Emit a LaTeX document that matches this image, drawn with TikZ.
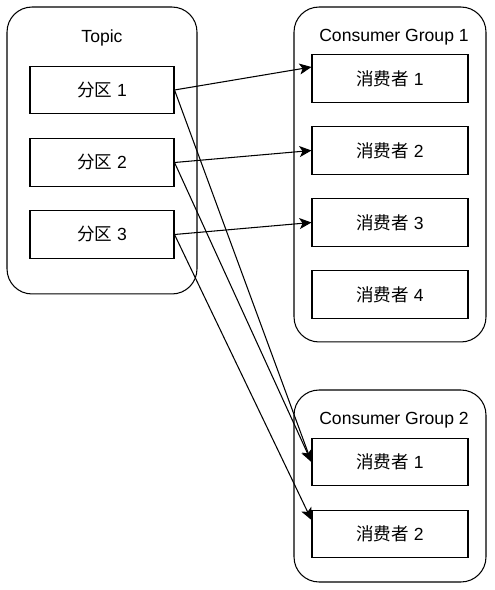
\documentclass[tikz,border=0pt]{standalone}
\usepackage{fontspec}
\setmainfont{Liberation Sans}
\newfontfamily\cjk{Noto Sans CJK SC}
\usetikzlibrary{positioning,arrows.meta}

\begin{document}
\begin{tikzpicture}[
      x=0.02cm,y=-0.02cm,
      >={Stealth[length=2.4mm,width=2.2mm,inset=0.6mm]},
      every node/.style={font=\fontsize{10}{12}\selectfont},
      grp/.style={draw=black,line width=0.6pt,rounded corners=0.5cm,inner sep=0pt},
      box/.style={draw=black,line width=0.6pt,minimum height=0.95cm,inner sep=0pt},
      part/.style={box,minimum width=2.88cm},
      cons/.style={box,minimum width=3.12cm},
      link/.style={draw=black,line width=0.6pt,->}
    ]
    \useasboundingbox (0,0) rectangle (494,590);
    % containers
    \node[grp,minimum width=3.8cm,minimum height=5.74cm] (topic) at (102,150.5) {};
    \node[grp,minimum width=3.84cm,minimum height=6.7cm] (grp1) at (390,174.5) {};
    \node[grp,minimum width=3.84cm,minimum height=3.84cm] (grp2) at (390,486) {};
    % container titles
    \node (ttopic) at (102,38) {Topic};
    \node (tgrp1) at (394,37) {Consumer Group 1};
    \node (tgrp2) at (394,420) {Consumer Group 2};
    % partitions
    \node[part] (p1) at (102,90) {{\cjk 分区} 1};
    \node[part] (p2) at (102,162.5) {{\cjk 分区} 2};
    \node[part] (p3) at (102,234.5) {{\cjk 分区} 3};
    % consumers of group 1
    \node[cons] (c1) at (390,78.5) {{\cjk 消费者} 1};
    \node[cons] (c2) at (390,150.5) {{\cjk 消费者} 2};
    \node[cons] (c3) at (390,222.5) {{\cjk 消费者} 3};
    \node[cons] (c4) at (390,294.5) {{\cjk 消费者} 4};
    % consumers of group 2
    \node[cons] (d1) at (390,462) {{\cjk 消费者} 1};
    \node[cons] (d2) at (390,534) {{\cjk 消费者} 2};
    % partition to consumer
    \draw[link] (p1.east) -- ([yshift=0.23cm]c1.west);
    \draw[link] (p2.east) -- (c2.west);
    \draw[link] (p3.east) -- (c3.west);
    \draw[link] (p1.east) -- (d1.west);
    \draw[link] (p2.east) -- (d1.west);
    \draw[link] (p3.east) -- ([yshift=0.28cm]d2.west);
  \end{tikzpicture}
\end{document}
